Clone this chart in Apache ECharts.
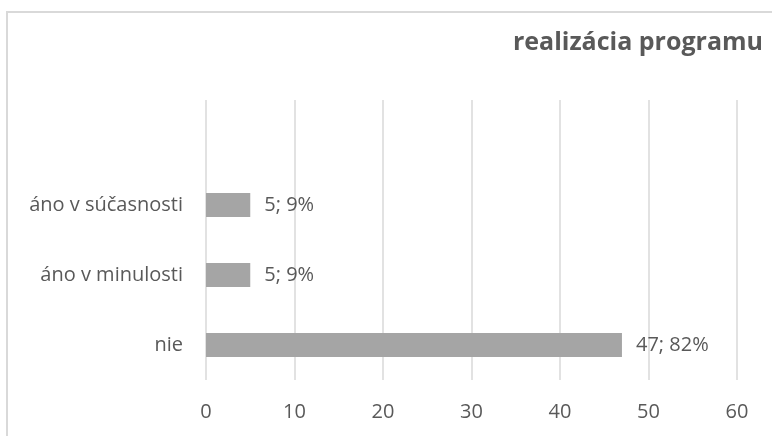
<!DOCTYPE html>
<html>
<head>
<meta charset="utf-8">
<script src="https://cdn.jsdelivr.net/npm/echarts@6/dist/echarts.min.js"></script>
<style>
  html, body { margin: 0; padding: 0; background: #fff; }
  #chart { width: 772px; height: 436px; }
</style>
</head>
<body>
<div id="chart"></div>
<script>
// Survey answers: program realisation (count; share)
const categories = ['nie', 'áno v minulosti', 'áno v súčasnosti', ''];
const counts = [47, 5, 5, null];
const shares = ['82%', '9%', '9%', ''];
const xTicks = [0, 10, 20, 30, 40, 50, 60];

const textColor = '#595959';
const gridColor = '#d9d9d9';

const chart = echarts.init(document.getElementById('chart'), null, { renderer: 'canvas' });

chart.setOption({
  animation: false,
  backgroundColor: '#fff',
  title: {
    text: 'realizácia programu',
    right: 4,
    top: 25,
    textStyle: {
      fontFamily: 'Open Sans',
      fontWeight: 'bold',
      fontSize: 25,
      color: textColor
    }
  },
  graphic: [{
    type: 'rect',
    silent: true,
    shape: { x: 7, y: 12, width: 900, height: 600 },
    style: { fill: 'none', stroke: gridColor, lineWidth: 2 }
  }],
  grid: { left: 206, right: 35, top: 100, bottom: 56, containLabel: false },
  xAxis: {
    type: 'value',
    min: xTicks[0],
    max: xTicks[xTicks.length - 1],
    interval: 10,
    axisLine: { show: false },
    axisTick: { show: false },
    splitLine: { show: true, lineStyle: { color: gridColor, width: 1.5 } },
    axisLabel: {
      color: textColor,
      fontFamily: 'Open Sans',
      fontSize: 20,
      margin: 22
    }
  },
  yAxis: {
    type: 'category',
    data: categories,
    axisLine: { show: false },
    axisTick: { show: false },
    axisLabel: {
      color: textColor,
      fontFamily: 'Open Sans',
      fontSize: 20,
      margin: 23
    }
  },
  series: [{
    type: 'bar',
    data: counts,
    barWidth: 24,
    itemStyle: { color: '#a5a5a5' },
    label: {
      show: true,
      position: 'right',
      distance: 14,
      color: textColor,
      fontFamily: 'Open Sans',
      fontSize: 20,
      formatter: p => p.value == null ? '' : p.value + '; ' + shares[p.dataIndex]
    }
  }]
});
</script>
</body>
</html>
